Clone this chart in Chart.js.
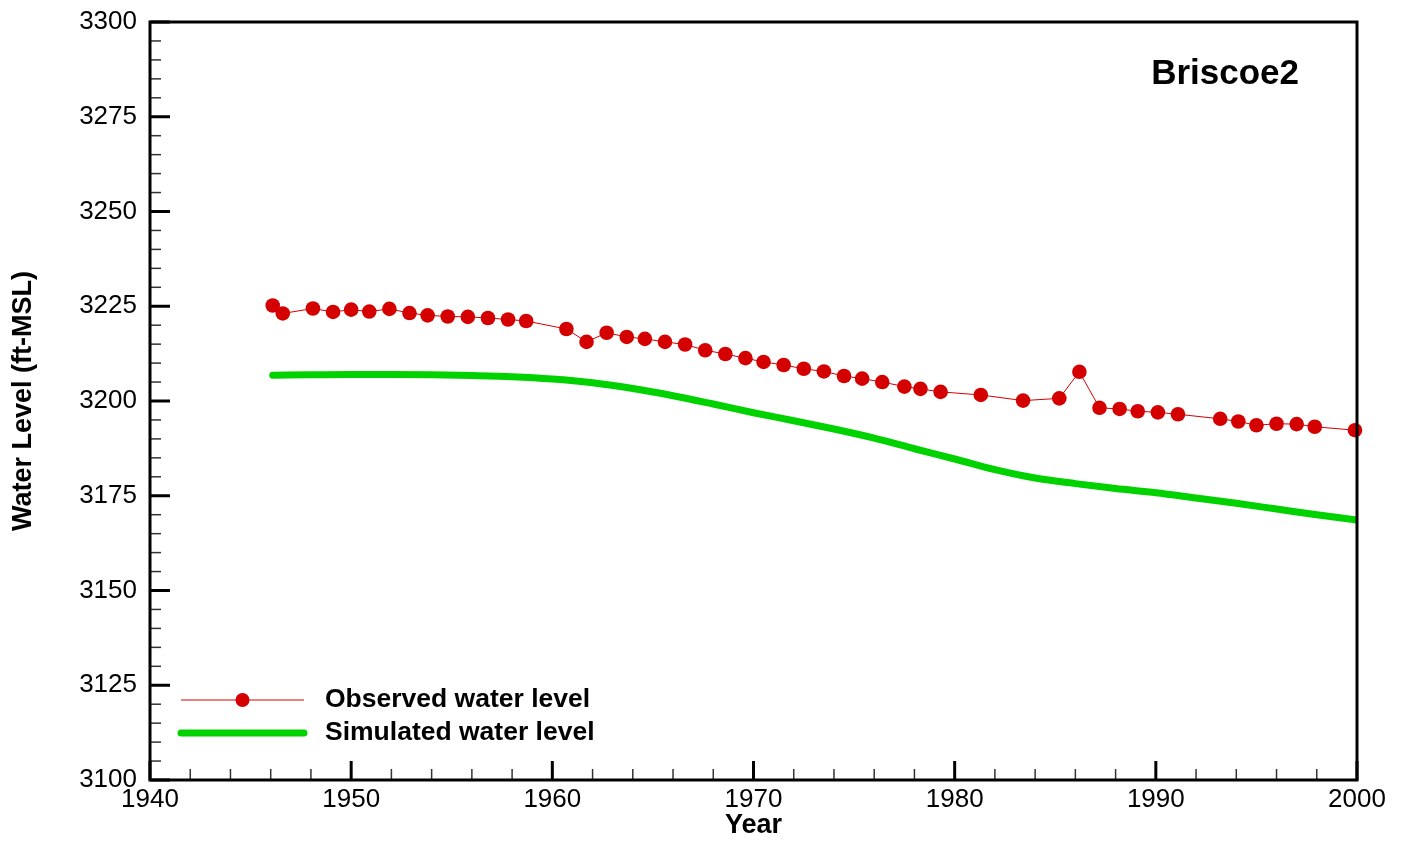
<!DOCTYPE html>
<html>
<head>
<meta charset="utf-8">
<script src="https://cdn.jsdelivr.net/npm/chart.js@4.4.1/dist/chart.umd.min.js"></script>
<style>
  html, body { margin: 0; padding: 0; background: #fff; }
  #wrap { width: 1407px; height: 842px; position: relative; }
</style>
</head>
<body>
<div id="wrap"><canvas id="levelChart"></canvas></div>
<script>
const wellName = 'Briscoe2';

// observed water level (ft-MSL)
const obsYears = [1946.1, 1946.6, 1948.1, 1949.1, 1950.0, 1950.9, 1951.9, 1952.9, 1953.8, 1954.8,
  1955.8, 1956.8, 1957.8, 1958.7, 1960.7, 1961.7, 1962.7, 1963.7, 1964.6, 1965.6,
  1966.6, 1967.6, 1968.6, 1969.6, 1970.5, 1971.5, 1972.5, 1973.5, 1974.5, 1975.4,
  1976.4, 1977.5, 1978.3, 1979.3, 1981.3, 1983.4, 1985.2, 1986.2, 1987.2, 1988.2,
  1989.1, 1990.1, 1991.1, 1993.2, 1994.1, 1995.0, 1996.0, 1997.0, 1997.9, 1999.9];
const obsLevels = [3225.2, 3223.1, 3224.4, 3223.5, 3224.1, 3223.6, 3224.3, 3223.2, 3222.6, 3222.3,
  3222.2, 3221.9, 3221.5, 3221.1, 3219.0, 3215.6, 3218.0, 3216.9, 3216.4, 3215.6,
  3214.9, 3213.4, 3212.4, 3211.3, 3210.3, 3209.5, 3208.5, 3207.8, 3206.6, 3205.9,
  3205.0, 3203.8, 3203.2, 3202.4, 3201.6, 3200.1, 3200.7, 3207.7, 3198.2, 3197.9,
  3197.3, 3197.0, 3196.5, 3195.3, 3194.6, 3193.6, 3194.0, 3193.9, 3193.2, 3192.3];

// simulated water level
const simYears = [1946.1, 1948, 1950, 1952, 1954, 1956, 1958, 1960, 1962, 1964, 1966, 1968, 1970,
  1972, 1974, 1976, 1978, 1980, 1982, 1984, 1986, 1988, 1990, 1992, 1994, 1996, 1998, 2000];
const simLevels = [3206.8, 3206.9, 3207.0, 3207.0, 3206.9, 3206.7, 3206.4, 3205.8, 3204.8, 3203.3,
  3201.4, 3199.2, 3196.9, 3194.8, 3192.6, 3190.2, 3187.4, 3184.7, 3181.9, 3179.7, 3178.2, 3176.9,
  3175.8, 3174.4, 3173.0, 3171.5, 3170.0, 3168.6];

const seriesNames = ['Observed water level', 'Simulated water level'];
const obsColor = '#d40000';
const simColor = '#00d200';
const fontFamily = '"Liberation Sans", Arial, sans-serif';

const toPoints = (xs, ys) => xs.map((x, i) => ({ x: x, y: ys[i] }));

// frame, inward ticks, well name and legend
const decorPlugin = {
  id: 'decor',
  afterDatasetsDraw(chart) {
    const { ctx, chartArea: a, scales } = chart;
    const xs = scales.x, ys = scales.y;
    ctx.save();
    ctx.lineCap = 'butt';

    // minor ticks
    ctx.lineWidth = 1.5;
    ctx.strokeStyle = '#333';
    for (let yr = 1942; yr < 2000; yr += 2) {
      if (yr % 10 === 0) continue;
      const px = xs.getPixelForValue(yr);
      ctx.beginPath(); ctx.moveTo(px, a.bottom); ctx.lineTo(px, a.bottom - 11); ctx.stroke();
    }
    for (let v = 3105; v < 3300; v += 5) {
      if (v % 25 === 0) continue;
      const py = ys.getPixelForValue(v);
      ctx.beginPath(); ctx.moveTo(a.left, py); ctx.lineTo(a.left + 11, py); ctx.stroke();
    }

    // major ticks
    ctx.strokeStyle = '#000';
    ctx.lineWidth = 3;
    xs.ticks.forEach(t => {
      const px = xs.getPixelForValue(t.value);
      ctx.beginPath(); ctx.moveTo(px, a.bottom); ctx.lineTo(px, a.bottom - 19); ctx.stroke();
    });
    ys.ticks.forEach(t => {
      const py = ys.getPixelForValue(t.value);
      ctx.beginPath(); ctx.moveTo(a.left, py); ctx.lineTo(a.left + 20, py); ctx.stroke();
    });

    // frame
    ctx.lineWidth = 3;
    ctx.strokeRect(a.left, a.top, a.right - a.left, a.bottom - a.top);

    // well name
    ctx.fillStyle = '#000';
    ctx.font = 'bold 35px ' + fontFamily;
    ctx.textAlign = 'right';
    ctx.textBaseline = 'middle';
    ctx.fillText(wellName, a.right - 58, a.top + 52);

    // legend
    const lx0 = a.left + 31, lx1 = a.left + 154;
    const row1 = a.bottom - 80, row2 = a.bottom - 47;
    ctx.strokeStyle = obsColor;
    ctx.lineWidth = 1;
    ctx.beginPath(); ctx.moveTo(lx0, row1); ctx.lineTo(lx1, row1); ctx.stroke();
    ctx.fillStyle = obsColor;
    ctx.beginPath(); ctx.arc((lx0 + lx1) / 2, row1, 7, 0, Math.PI * 2); ctx.fill();
    ctx.strokeStyle = simColor;
    ctx.lineWidth = 7;
    ctx.lineCap = 'round';
    ctx.beginPath(); ctx.moveTo(lx0, row2); ctx.lineTo(lx1, row2); ctx.stroke();

    ctx.fillStyle = '#000';
    ctx.font = 'bold 26.5px ' + fontFamily;
    ctx.textAlign = 'left';
    ctx.fillText(seriesNames[0], a.left + 175, row1);
    ctx.fillText(seriesNames[1], a.left + 175, row2);
    ctx.restore();
  }
};

new Chart(document.getElementById('levelChart').getContext('2d'), {
  type: 'line',
  data: {
    datasets: [{
      label: seriesNames[1],
      data: toPoints(simYears, simLevels),
      borderColor: simColor,
      borderWidth: 7,
      borderCapStyle: 'round',
      cubicInterpolationMode: 'monotone',
      pointRadius: 0,
      fill: false
    }, {
      label: seriesNames[0],
      data: toPoints(obsYears, obsLevels),
      borderColor: obsColor,
      backgroundColor: obsColor,
      borderWidth: 1,
      pointRadius: 7.3,
      pointBackgroundColor: obsColor,
      pointBorderWidth: 0,
      tension: 0,
      clip: false,
      fill: false
    }]
  },
  options: {
    responsive: true,
    maintainAspectRatio: false,
    animation: false,
    layout: { padding: { left: 0, right: 50, top: 22, bottom: 0 } },
    plugins: { legend: { display: false }, tooltip: { enabled: false } },
    scales: {
      x: {
        type: 'linear',
        min: 1940, max: 2000,
        grid: { display: false, drawTicks: false },
        border: { display: false },
        ticks: { stepSize: 10, padding: 4, color: '#000', font: { family: fontFamily, size: 26 },
          callback: v => String(v) },
        title: { display: true, text: 'Year', color: '#000', padding: { top: 0, bottom: 0 },
          font: { family: fontFamily, size: 27, weight: 'bold' } },
        afterFit: s => { s.height = 62; }
      },
      y: {
        min: 3100, max: 3300,
        grid: { display: false, drawTicks: false },
        border: { display: false },
        ticks: { stepSize: 25, padding: 13, color: '#000', font: { family: fontFamily, size: 26 },
          callback: v => String(v) },
        title: { display: true, text: 'Water Level (ft-MSL)', color: '#000', padding: { top: 7, bottom: 0 },
          font: { family: fontFamily, size: 27, weight: 'bold' } },
        afterFit: s => { s.width = 150; s.paddingTop = 0; s.paddingBottom = 0; }
      }
    }
  },
  plugins: [decorPlugin]
});
</script>
</body>
</html>
